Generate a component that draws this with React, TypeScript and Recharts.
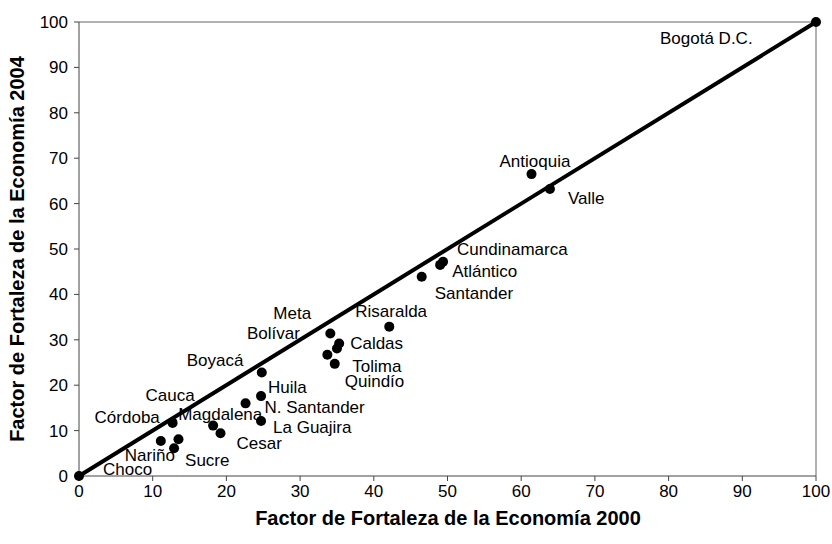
import React from "react";
import {
  ScatterChart,
  Scatter,
  XAxis,
  YAxis,
  ReferenceLine,
} from "recharts";

// departamentos y sus factores (2000 en x, 2004 en y)
const names = [
  "Bogotá D.C.", "Antioquia", "Valle", "Cundinamarca", "Atlántico", "Santander",
  "Risaralda", "Meta", "Caldas", "Bolívar", "Tolima", "Quindío", "Boyacá",
  "Huila", "N. Santander", "La Guajira", "Magdalena", "Cesar", "Córdoba",
  "Cauca", "Nariño", "Sucre", "Choco",
];
const factor2000 = [
  100, 61.4, 63.9, 49.4, 49.0, 46.5, 42.1, 34.1, 35.3, 35.0, 33.7, 34.7, 24.8,
  24.7, 22.6, 24.7, 18.2, 19.2, 12.7, 13.5, 11.1, 12.9, 0,
];
const factor2004 = [
  100, 66.5, 63.2, 47.2, 46.5, 43.9, 32.9, 31.4, 29.2, 28.1, 26.7, 24.7, 22.8,
  17.6, 16.0, 12.1, 11.1, 9.4, 11.7, 8.1, 7.7, 6.1, 0,
];
const ticks = [0, 10, 20, 30, 40, 50, 60, 70, 80, 90, 100];
const diagonal = [
  { x: 0, y: 0 },
  { x: 100, y: 100 },
];

const data = names.map((name, i) => ({ name, x: factor2000[i], y: factor2004[i] }));

// where each label sits relative to its dot (px): [dx to text start, dy to text middle]
const labelOffsets: Record<string, [number, number]> = {
  "Bogotá D.C.": [-156, 16],
  Antioquia: [-32, -13],
  Valle: [18, 9],
  Cundinamarca: [14, -12],
  "Atlántico": [12, 7],
  Santander: [13, 17],
  Risaralda: [-34, -15],
  Meta: [-57, -20],
  Caldas: [11, 0],
  "Bolívar": [-90, -15],
  Tolima: [25, 12],
  "Quindío": [10, 18],
  "Boyacá": [-75, -12],
  Huila: [7, -9],
  "N. Santander": [19, 4],
  "La Guajira": [12, 6],
  Magdalena: [-35, -11],
  Cesar: [16, 10],
  "Córdoba": [-78, -5],
  Cauca: [-33, -44],
  "Nariño": [-36, 14],
  Sucre: [11, 12],
  Choco: [24, -7],
};

const font = "'Liberation Sans', Arial, sans-serif";

const renderPoint = (props: any) => {
  const { cx, cy, payload } = props;
  const off = labelOffsets[payload.name] ?? [8, 0];
  return (
    <g>
      <circle cx={cx} cy={cy} r={5} fill="#000" />
      <text
        x={cx + off[0]}
        y={cy + off[1]}
        dominantBaseline="central"
        fontSize={17}
        fontFamily={font}
        fill="#000"
      >
        {payload.name}
      </text>
    </g>
  );
};

export default function App() {
  return (
    <div style={{ position: "absolute", left: 0, top: 0, background: "#fff" }}>
      <ScatterChart
        width={832}
        height={544}
        margin={{ top: 22, right: 16, bottom: 0, left: 0 }}
      >
        <XAxis
          type="number"
          dataKey="x"
          domain={[0, 100]}
          ticks={ticks}
          height={68}
          stroke="#444"
          tickSize={5}
          tickMargin={4}
          tick={{ fontSize: 17, fill: "#000", fontFamily: font }}
          label={{
            content: () => (
              <text
                x={448}
                y={518}
                textAnchor="middle"
                dominantBaseline="central"
                fontSize={20}
                fontWeight="bold"
                fontFamily={font}
                fill="#000"
              >
                Factor de Fortaleza de la Economía 2000
              </text>
            ),
          }}
        />
        <YAxis
          type="number"
          dataKey="y"
          domain={[0, 100]}
          ticks={ticks}
          width={79}
          stroke="#444"
          tickSize={5}
          tickMargin={6}
          tick={{ fontSize: 17, fill: "#000", fontFamily: font }}
          label={{
            content: () => (
              <text
                x={17}
                y={249}
                transform="rotate(-90 17 249)"
                textAnchor="middle"
                dominantBaseline="central"
                fontSize={20}
                fontWeight="bold"
                fontFamily={font}
                fill="#000"
              >
                Factor de Fortaleza de la Economía 2004
              </text>
            ),
          }}
        />
        <ReferenceLine y={100} stroke="#999" strokeWidth={1.5} />
        <ReferenceLine x={100} stroke="#999" strokeWidth={1.5} />
        <ReferenceLine segment={diagonal} stroke="#000" strokeWidth={4} />
        <Scatter data={data} shape={renderPoint} isAnimationActive={false} />
      </ScatterChart>
    </div>
  );
}
